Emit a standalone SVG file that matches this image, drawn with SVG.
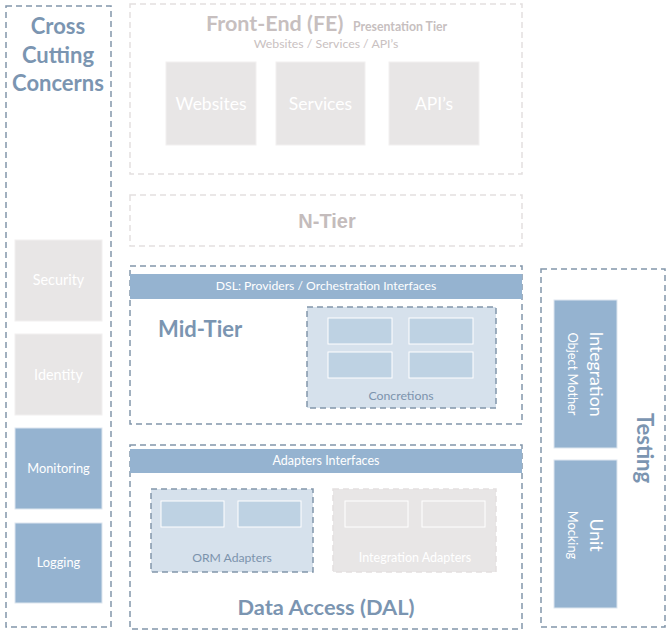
<svg xmlns="http://www.w3.org/2000/svg" width="668" height="636" viewBox="0 0 668 636">
<style>
text{font-family:Lato,"Open Sans","Noto Sans",sans-serif}
.dash{fill:#fff;stroke:#8296aa;stroke-width:1.5;stroke-dasharray:6 4}
.dashl{fill:#fff;stroke:#e3e0e0;stroke-width:1.5;stroke-dasharray:6 4}
.blue{fill:#95b3d0;stroke:#dde6ef;stroke-width:1}
.gray{fill:#e8e6e6;stroke:#f2f0f0;stroke-width:1}
.inb{fill:#bed2e3;stroke:#fff;stroke-width:1}
.wt{fill:#fff;text-anchor:middle}
.title{fill:#7b95b1;font-weight:bold;text-anchor:middle}
.gt{fill:#c7bfbf;font-weight:bold}
</style>
<rect width="668" height="636" fill="#fff"/>
<g id="cross-cutting">
<rect class="dash" x="6" y="6" width="105" height="621"/>
<text class="title" x="58" y="34" font-size="22">Cross</text>
<text class="title" x="58" y="63" font-size="22">Cutting</text>
<text class="title" x="58" y="91" font-size="22">Concerns</text>
</g>
<g id="security"><rect class="gray" x="15" y="240" width="87" height="81"/><text class="wt" x="58.5" y="285" font-size="14.4">Security</text></g>
<g id="identity"><rect class="gray" x="15" y="334" width="87" height="81"/><text class="wt" x="58.5" y="380" font-size="14.4">Identity</text></g>
<g id="monitoring"><rect class="blue" x="15" y="428" width="87" height="81"/><text class="wt" x="58.5" y="473" font-size="12.8">Monitoring</text></g>
<g id="logging"><rect class="blue" x="15" y="523" width="87" height="80"/><text class="wt" x="58.5" y="567" font-size="12.8">Logging</text></g>

<g id="front-end">
<rect class="dashl" x="130" y="4" width="392" height="170"/>
<text class="gt" x="206" y="31" font-size="21.5">Front-End (FE)</text>
<text class="gt" x="353" y="31" font-size="12.3">Presentation Tier</text>
<text x="326" y="48" font-size="12.3" fill="#c9c1c1" text-anchor="middle">Websites / Services / API’s</text>
</g>
<g id="websites"><rect class="gray" x="166" y="62" width="90" height="83"/><text class="wt" x="211" y="110" font-size="17.5">Websites</text></g>
<g id="services"><rect class="gray" x="276" y="62" width="89" height="83"/><text class="wt" x="320.5" y="110" font-size="17.5">Services</text></g>
<g id="apis"><rect class="gray" x="389" y="62" width="90" height="83"/><text class="wt" x="434" y="110" font-size="17.5">API’s</text></g>

<g id="n-tier">
<rect class="dashl" x="130" y="195" width="392" height="51"/>
<text x="327" y="228" font-size="20" font-weight="bold" fill="#c4bcbc" text-anchor="middle" style="font-family:'Liberation Sans',Arial,sans-serif">N-Tier</text>
</g>

<g id="mid-tier">
<rect class="dash" x="130" y="266" width="392" height="158"/>
<rect fill="#95b3d0" x="130" y="274" width="392" height="25"/>
<text class="wt" x="326" y="290" font-size="12.2">DSL: Providers / Orchestration Interfaces</text>
<text x="158" y="337" font-size="22" font-weight="bold" fill="#7b95b1">Mid-Tier</text>
</g>
<g id="concretions">
<rect class="dash" style="fill:#d6e1ec" x="307" y="307" width="189" height="101"/>
<rect class="inb" x="328" y="318" width="64" height="26"/>
<rect class="inb" x="409" y="318" width="64" height="26"/>
<rect class="inb" x="328" y="352" width="64" height="26"/>
<rect class="inb" x="409" y="352" width="64" height="26"/>
<text x="401" y="400" font-size="12.3" fill="#7c93ac" text-anchor="middle">Concretions</text>
</g>

<g id="data-access">
<rect class="dash" x="130" y="445" width="392" height="184"/>
<rect fill="#95b3d0" x="130" y="449" width="392" height="24"/>
<text class="wt" x="326" y="465" font-size="12.5">Adapters Interfaces</text>
<text class="title" x="326" y="615" font-size="21.8">Data Access (DAL)</text>
</g>
<g id="orm-adapters">
<rect class="dash" style="fill:#d6e1ec" x="151" y="489" width="162" height="83"/>
<rect class="inb" x="161" y="501" width="63" height="26"/>
<rect class="inb" x="238" y="501" width="63" height="26"/>
<text x="232" y="562" font-size="12.2" fill="#7c93ac" text-anchor="middle">ORM Adapters</text>
</g>
<g id="integration-adapters">
<rect class="dashl" style="fill:#e8e6e6" x="333" y="489" width="163" height="83"/>
<rect fill="#e8e6e6" stroke="#fff" x="345" y="501" width="63" height="26"/>
<rect fill="#e8e6e6" stroke="#fff" x="422" y="501" width="63" height="26"/>
<text class="wt" x="415" y="562" font-size="12.5">Integration Adapters</text>
</g>

<g id="testing">
<rect class="dash" x="541" y="269" width="124" height="358"/>
<text class="title" transform="translate(637 448) rotate(90)" font-size="22">Testing</text>
</g>
<g id="integration">
<rect class="blue" x="554" y="300" width="63" height="148"/>
<text class="wt" transform="translate(590 374) rotate(90)" font-size="17.7">Integration</text>
<text class="wt" transform="translate(568 374) rotate(90)" font-size="12.8">Object Mother</text>
</g>
<g id="unit">
<rect class="blue" x="554" y="460" width="63" height="148"/>
<text class="wt" transform="translate(590 535) rotate(90)" font-size="17.7">Unit</text>
<text class="wt" transform="translate(568 535) rotate(90)" font-size="12.8">Mocking</text>
</g>
<g id="connectors"></g>
</svg>
